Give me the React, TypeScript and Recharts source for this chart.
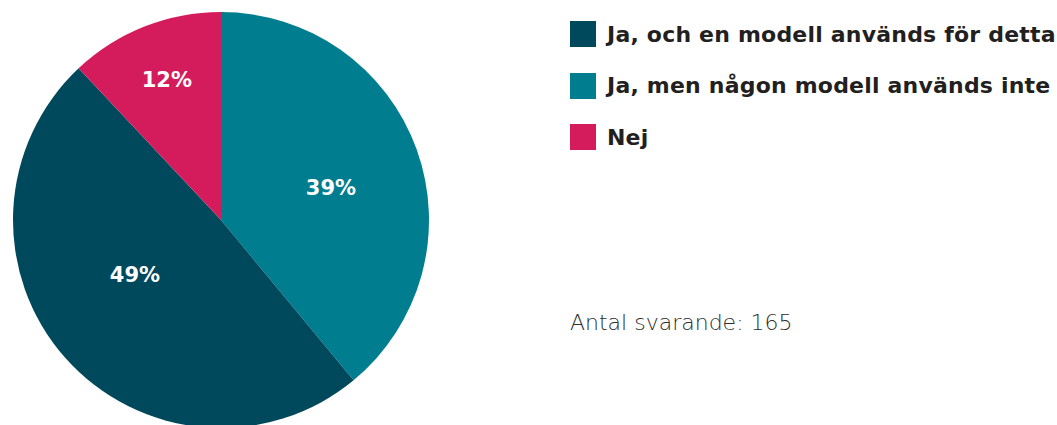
import { PieChart, Pie, Cell } from 'recharts';

// pie order, clockwise from 12 o'clock
const categories = [
  'Ja, men någon modell används inte',
  'Ja, och en modell används för detta',
  'Nej',
];
const shares = [39, 49, 12];
const legendOrder = [
  'Ja, och en modell används för detta',
  'Ja, men någon modell används inte',
  'Nej',
];
const respondents = 165;

const COLORS: Record<string, string> = {
  'Ja, och en modell används för detta': '#00485b',
  'Ja, men någon modell används inte': '#007d8e',
  Nej: '#d41b5b',
};

// label placement tweaks (fraction of radius, clockwise nudge in degrees)
const LABEL_TWEAK = [
  { r: 0.55, nudge: 3.8 },
  { r: 0.49, nudge: 9 },
  { r: 0.72, nudge: 0.4 },
];

const data = categories.map((name, i) => ({ name, value: shares[i] }));

const RAD = Math.PI / 180;

const renderLabel = (props: any) => {
  const { cx, cy, midAngle, outerRadius, index, value } = props;
  const t = LABEL_TWEAK[index];
  const a = (midAngle - t.nudge) * RAD;
  const x = cx + outerRadius * t.r * Math.cos(a);
  const y = cy - outerRadius * t.r * Math.sin(a);
  return (
    <text
      x={x}
      y={y}
      fill="#ffffff"
      textAnchor="middle"
      dominantBaseline="central"
      fontFamily="'DejaVu Sans', sans-serif"
      fontWeight={700}
      fontSize={21}
    >
      {`${value}%`}
    </text>
  );
};

export default function App() {
  return (
    <div style={{ position: 'absolute', left: 0, top: 0, width: 1057, height: 425, background: '#fff', overflow: 'hidden' }}>
      <PieChart width={1057} height={425} margin={{ top: 0, right: 0, bottom: 0, left: 0 }}>
        <Pie
          data={data}
          dataKey="value"
          nameKey="name"
          cx={221}
          cy={220}
          outerRadius={208}
          startAngle={90}
          endAngle={-270}
          stroke="none"
          label={renderLabel}
          labelLine={false}
          isAnimationActive={false}
        >
          {data.map(d => (
            <Cell key={d.name} fill={COLORS[d.name]} />
          ))}
        </Pie>
      </PieChart>
      <div style={{ position: 'absolute', left: 570, top: 21, fontFamily: "'DejaVu Sans', sans-serif" }}>
        {legendOrder.map(name => (
          <div key={name} style={{ display: 'flex', alignItems: 'center', height: 26, marginBottom: 25.5 }}>
            <span style={{ width: 26, height: 26, background: COLORS[name], display: 'inline-block', flex: 'none' }} />
            <span
              style={{
                marginLeft: 11,
                fontSize: 22,
                letterSpacing: 0.2,
                fontWeight: 700,
                color: '#231f20',
                whiteSpace: 'nowrap',
              }}
            >
              {name}
            </span>
          </div>
        ))}
      </div>
      <div
        style={{
          position: 'absolute',
          left: 570,
          top: 310,
          fontFamily: "'DejaVu Sans', sans-serif",
          fontWeight: 200,
          fontSize: 22,
          color: '#2e2e2e',
          whiteSpace: 'nowrap',
        }}
      >
        Antal svarande: {respondents}
      </div>
    </div>
  );
}
